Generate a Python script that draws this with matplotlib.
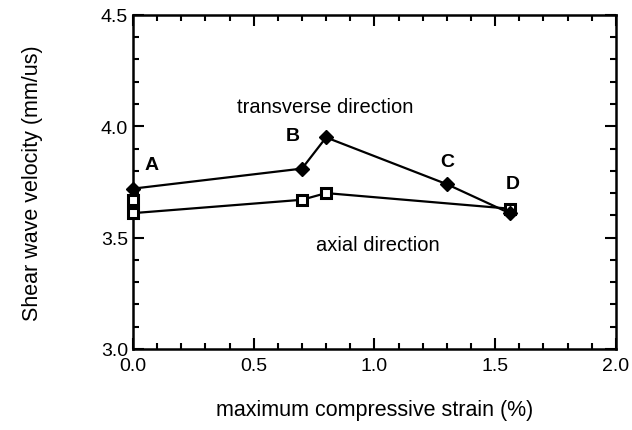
import numpy as np
import matplotlib
matplotlib.use("Agg")
import matplotlib.pyplot as plt
from matplotlib.ticker import MultipleLocator

# data
trans_x = [0.0, 0.7, 0.8, 1.3, 1.56]
trans_y = [3.72, 3.81, 3.95, 3.74, 3.61]
axial_x = [0.0, 0.0, 0.7, 0.8, 1.56]
axial_y = [3.67, 3.61, 3.67, 3.70, 3.63]
point_names = ["A", "B", "C", "D"]
name_x = [0.075, 0.66, 1.30, 1.575]
name_y = [3.83, 3.96, 3.84, 3.745]

plt.rcParams['font.family'] = ['Liberation Sans', 'DejaVu Sans']

fig = plt.figure(figsize=(6.32, 4.31), dpi=100)
ax = fig.add_axes([0.2104, 0.188, 0.764, 0.775])

ax.plot(axial_x, axial_y, color='black', lw=1.6, marker='s', ms=7,
        mfc='white', mec='black', mew=2.2, clip_on=False, zorder=3)
ax.plot(trans_x, trans_y, color='black', lw=1.6, marker='D', ms=7.5,
        mfc='black', mec='black', clip_on=False, zorder=4)

for name, x, y in zip(point_names, name_x, name_y):
    ax.text(x, y, name, fontsize=14, fontweight='bold', ha='center', va='center')

ax.text(0.795, 4.09, "transverse direction", fontsize=14.5, ha='center', va='center')
ax.text(1.014, 3.47, "axial direction", fontsize=14.5, ha='center', va='center')

ax.set_xlim(0, 2.0)
ax.set_ylim(3.0, 4.5)
ax.xaxis.set_major_locator(MultipleLocator(0.5))
ax.xaxis.set_minor_locator(MultipleLocator(0.1))
ax.yaxis.set_major_locator(MultipleLocator(0.5))
ax.yaxis.set_minor_locator(MultipleLocator(0.1))
ax.xaxis.set_major_formatter(matplotlib.ticker.FormatStrFormatter('%.1f'))
ax.yaxis.set_major_formatter(matplotlib.ticker.FormatStrFormatter('%.1f'))
ax.tick_params(which='both', direction='in', top=True, right=True, width=1.5)
ax.tick_params(which='major', length=8, labelsize=14)
ax.tick_params(which='minor', length=4)
ax.tick_params(axis='x', which='major', pad=6)
for s in ax.spines.values():
    s.set_linewidth(1.8)

ax.set_xlabel("maximum compressive strain (%)", fontsize=15.5, labelpad=18)
ax.set_ylabel("Shear wave velocity (mm/us)", fontsize=15.5, labelpad=42)

fig.savefig("out.png", dpi=100)
